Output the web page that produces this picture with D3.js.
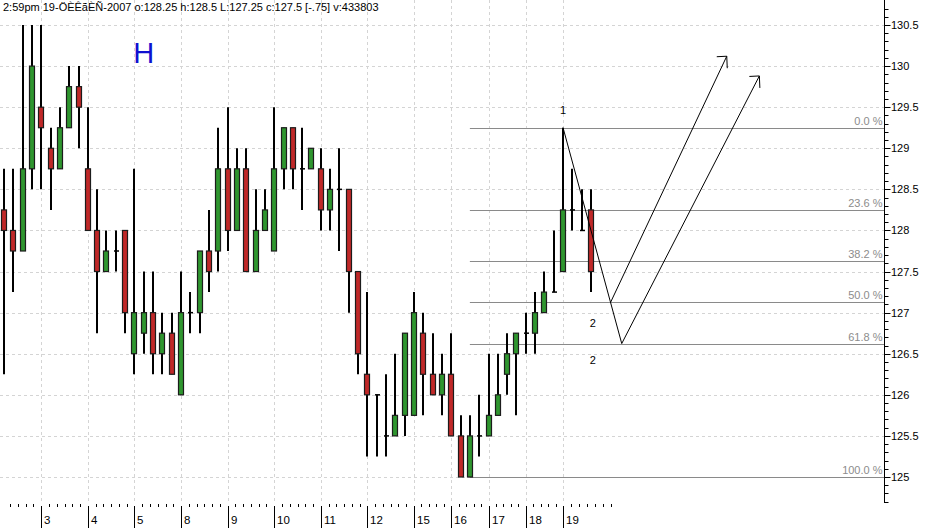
<!DOCTYPE html>
<html><head><meta charset="utf-8">
<script src="https://cdn.jsdelivr.net/npm/d3@7"></script>
<style>
html,body{margin:0;padding:0;background:#fff;}
svg{display:block;font-family:"Liberation Sans",Arial,sans-serif;}
</style></head>
<body>
<svg id="c" width="941" height="528"></svg>
<script>
// ---------- DATA ----------
const titleText = "2:59pm 19-ÖÈÊãÈÑ-2007  o:128.25 h:128.5 L:127.25 c:127.5 [-.75] v:433803";
const opens  = [128.25,128,127.75,128.75,129.5,129,128.75,129.25,129.75,128.75,128,127.5,127.75,128,126.5,126.75,127,126.5,126.75,126,127,127,127.75,127.75,128.75,128,128.75,127.5,128,127.75,128.75,129.25,128.75,128.75,128.75,128.25,128.5,128.5,127.5,126.25,126,125.5,125.5,125.75,125.75,126.75,126.25,126,126.25,125.5,125,125.5,125.5,125.75,126.25,126.5,126.75,126.75,127,127.25,127.5,128.25,128,128.25];
const highs  = [128.75,128.75,130.5,130.5,130.5,129.25,129.5,130,130,129.5,128.5,128,128,128,128.75,127.5,127.5,127,127,127.5,127.25,127.75,128.25,129.25,129.5,129,129,128.5,128.5,129.5,129.25,129.25,129.25,129,129,128.75,129,128.5,127.5,127.25,126,126.25,126.5,126.75,127.25,127,126.75,126.5,126.75,125.75,125.75,126,126.5,126.5,126.75,126.75,127,127.25,127.5,128,129.25,128.75,128.5,128.5];
const lows   = [126.25,127.25,127.75,128.5,128.5,128.25,128.75,129.25,129,128,126.75,127.5,127.5,126.75,126.25,126.5,126.25,126.25,126.25,126,126.75,126.75,127.25,127.5,127.75,128,127.5,127.5,128,127.75,128.5,128.5,128.25,128.75,128,128,127.75,127,126.25,125.25,125.25,125.25,125.5,125.5,125.75,125.75,126,125.75,125.5,125,125,125.25,125.5,125.75,126,125.75,126.5,126.5,127,127.25,127.5,128,128,127.25];
const closes = [128,127.75,128.75,130,129.25,128.75,129.25,129.75,129.5,128,127.5,127.75,127.75,127,127,127,126.5,126.75,126.25,127,127,127.75,127.5,128.75,128,128.75,127.5,128,128.25,128.75,129.25,128.75,128.75,129,128.25,128.5,128.5,127.5,126.5,126,126,125.5,125.75,126.75,127,126.25,126,126.25,125.5,125,125.5,125.5,125.75,126,126.5,126.75,126.75,127,127.25,127.25,128.25,128.25,128,127.5];
const dayTickIndex = [4,9,14,19,24,29,34,39,44,48,52,56,60];
const dayTickLabel = ["3","4","5","8","9","10","11","12","15","16","17","18","19"];
const priceTicks = [125,125.5,126,126.5,127,127.5,128,128.5,129,129.5,130,130.5];
const priceTickLabels = ["125","125.5","126","126.5","127","127.5","128","128.5","129","129.5","130","130.5"];
const fibStartIndex = 50, fibLow = 125.0, fibHigh = 129.25;
const fibLevels = [0, 0.236, 0.382, 0.5, 0.618, 1.0];
const fibLabels = ["0.0 %","23.6 %","38.2 %","50.0 %","61.8 %","100.0 %"];
// wave annotation points (candle index, price)
const waveDown = [[60,129.25],[66.3,126.6235]];
const arrowUp1 = [[65.1,127.125],[77.57,130.12]];
const arrowUp2 = [[66.3,126.6235],[81.07,129.88]];
const waveLabels = [{i:60,p:129.42,t:"1"},{i:63.2,p:126.83,t:"2"},{i:63.2,p:126.37,t:"2"}];
const bigLabel = {i:15, p:130.04, t:"H"};

// ---------- SCALES ----------
const svg = d3.select("#c");
const W = 941, H = 528, axisX = 884.5;
const x = d3.scaleLinear().domain([0,63]).range([4,591]);
const y = d3.scaleLinear().domain([125,130.5]).range([477,25]);

svg.append("rect").attr("width",W).attr("height",H).attr("fill","#fff");

// grid
const g = svg.append("g");
g.selectAll("line.hg").data(priceTicks).join("line")
  .attr("x1",0).attr("x2",axisX).attr("y1",d=>Math.round(y(d))+0.5).attr("y2",d=>Math.round(y(d))+0.5)
  .attr("stroke","#d4d4d4").attr("stroke-dasharray","3,3");
g.selectAll("line.vg").data(dayTickIndex).join("line")
  .attr("x1",d=>Math.round(x(d))+0.5).attr("x2",d=>Math.round(x(d))+0.5).attr("y1",0).attr("y2",503)
  .attr("stroke","#d4d4d4").attr("stroke-dasharray","3,3");

// fib lines
const fibVal = f => fibHigh - f*(fibHigh-fibLow);
const fg = svg.append("g");
fg.selectAll("line").data(fibLevels).join("line")
  .attr("x1",x(fibStartIndex)).attr("x2",axisX)
  .attr("y1",d=>Math.round(y(fibVal(d)))+0.5).attr("y2",d=>Math.round(y(fibVal(d)))+0.5)
  .attr("stroke","#8a8a8a").attr("stroke-width",1);
fg.selectAll("text").data(fibLevels).join("text")
  .attr("x",axisX-2).attr("y",d=>y(fibVal(d))-3)
  .attr("text-anchor","end").attr("font-size",11).attr("fill","#8c8c8c")
  .text((d,i)=>fibLabels[i]);

// candles
const data = opens.map((o,i)=>({i,o,h:highs[i],l:lows[i],c:closes[i]}));
const cg = svg.append("g");
const bw = 5;
cg.selectAll("line.w").data(data).join("line")
  .attr("x1",d=>Math.round(x(d.i))).attr("x2",d=>Math.round(x(d.i)))
  .attr("y1",d=>y(d.h)).attr("y2",d=>y(d.l))
  .attr("stroke","#000").attr("stroke-width",2);
cg.selectAll("rect.b").data(data.filter(d=>d.o!==d.c)).join("rect")
  .attr("x",d=>Math.round(x(d.i))-bw/2)
  .attr("y",d=>y(Math.max(d.o,d.c)))
  .attr("width",bw)
  .attr("height",d=>Math.abs(y(d.o)-y(d.c)))
  .attr("fill",d=>d.c>d.o?"#2f962f":"#c02828")
  .attr("stroke","#1c1c1c").attr("stroke-width",1.2);
cg.selectAll("line.dj").data(data.filter(d=>d.o===d.c)).join("line")
  .attr("x1",d=>Math.round(x(d.i))-2).attr("x2",d=>Math.round(x(d.i))+3)
  .attr("y1",d=>y(d.c)).attr("y2",d=>y(d.c))
  .attr("stroke","#000").attr("stroke-width",1.5);

// wave annotations
const line = d3.line().x(d=>x(d[0])).y(d=>y(d[1]));
const ag = svg.append("g").attr("fill","none").attr("stroke","#000").attr("stroke-width",1);
[waveDown, arrowUp1, arrowUp2].forEach(pts=>ag.append("path").attr("d",line(pts)));
[arrowUp1, arrowUp2].forEach(pts=>{
  const tx = x(pts[1][0]), ty = y(pts[1][1]);
  ag.append("path").attr("d",`M${tx-10},${ty+0.5}L${tx},${ty}L${tx+0.5},${ty+12}`);
});
svg.selectAll("text.wl").data(waveLabels).join("text")
  .attr("x",d=>x(d.i)).attr("y",d=>y(d.p)).attr("text-anchor","middle")
  .attr("font-size",11).attr("fill","#000").text(d=>d.t);

svg.append("text").attr("x",x(bigLabel.i)).attr("y",y(bigLabel.p)).attr("text-anchor","middle")
  .attr("font-size",29).attr("fill","#1010d0").text(bigLabel.t);

// right axis
const axg = svg.append("g");
axg.append("line").attr("x1",axisX).attr("x2",axisX).attr("y1",0).attr("y2",503).attr("stroke","#000");
const minor = d3.range(1247,1312).map(v=>v/10).filter(v=>y(v)>=1&&y(v)<=503);
axg.selectAll("line.mt").data(minor).join("line")
  .attr("x1",axisX).attr("x2",axisX+4).attr("y1",d=>Math.round(y(d))+0.5).attr("y2",d=>Math.round(y(d))+0.5)
  .attr("stroke","#000");
axg.selectAll("line.Mt").data(priceTicks).join("line")
  .attr("x1",axisX).attr("x2",axisX+6).attr("y1",d=>Math.round(y(d))+0.5).attr("y2",d=>Math.round(y(d))+0.5)
  .attr("stroke","#000");
axg.selectAll("text").data(priceTicks).join("text")
  .attr("x",axisX+6.5).attr("y",d=>y(d)+4).attr("font-size",11).attr("fill","#000")
  .text((d,i)=>priceTickLabels[i]);

// bottom axis
const bg = svg.append("g");
bg.selectAll("line.maj").data(dayTickIndex).join("line")
  .attr("x1",d=>Math.round(x(d))+0.5).attr("x2",d=>Math.round(x(d))+0.5).attr("y1",506).attr("y2",528)
  .attr("stroke","#000");
bg.selectAll("text").data(dayTickIndex).join("text")
  .attr("x",d=>Math.round(x(d))+3).attr("y",524).attr("font-size",11.5).attr("fill","#000")
  .text((d,i)=>dayTickLabel[i]);
// minor ticks between day ticks
const bounds = [-0.2].concat(dayTickIndex).concat([66]);
const minorX = [];
for(let k=0;k<bounds.length-1;k++){
  const a = x(bounds[k]), b = x(bounds[k+1]);
  const n = Math.max(1, Math.round((b-a)/7.8));
  for(let j=1;j<n;j++) minorX.push(a+(b-a)*j/n);
}
bg.selectAll("line.min").data(minorX.filter(v=>v>1&&v<axisX-2)).join("line")
  .attr("x1",d=>Math.round(d)+0.5).attr("x2",d=>Math.round(d)+0.5).attr("y1",504).attr("y2",507)
  .attr("stroke","#000");

// title
svg.append("text").attr("x",3).attr("y",11).attr("font-size",11).attr("fill","#000").text(titleText);
</script>
</body></html>
